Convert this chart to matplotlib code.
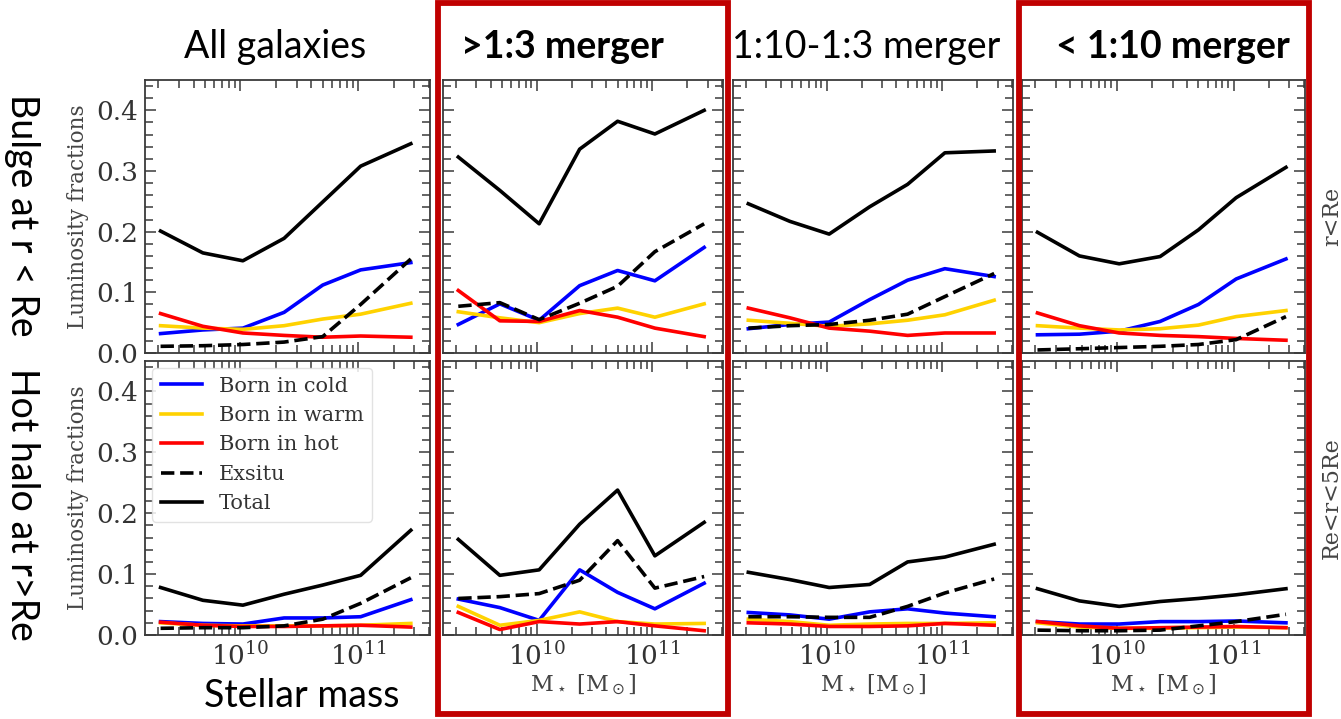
import numpy as np
import matplotlib
matplotlib.use("Agg")
import matplotlib.pyplot as plt
from matplotlib.patches import Rectangle
from matplotlib.ticker import MultipleLocator, LogLocator, NullFormatter

# Stellar mass bin centres [M_sun]
mass = [2.1e9, 4.8e9, 1.05e10, 2.35e10, 5.0e10, 1.05e11, 2.8e11]

columns = ["All galaxies", ">1:3 merger", "1:10-1:3 merger", "< 1:10 merger"]
column_bold = [False, True, False, True]
rows = ["r<Re", "Re<r<5Re"]
row_titles = ["Bulge at r < Re", "Hot halo at r>Re"]
series_labels = ["Born in cold", "Born in warm", "Born in hot", "Exsitu", "Total"]

# ---- Luminosity fractions inside Re ----
bulge_all_cold = [0.032, 0.038, 0.041, 0.067, 0.112, 0.137, 0.149]
bulge_all_warm = [0.045, 0.041, 0.039, 0.045, 0.056, 0.064, 0.082]
bulge_all_hot = [0.065, 0.044, 0.033, 0.029, 0.026, 0.028, 0.026]
bulge_all_exsitu = [0.011, 0.012, 0.014, 0.018, 0.027, 0.080, 0.155]
bulge_all_total = [0.201, 0.165, 0.152, 0.189, 0.249, 0.308, 0.345]

bulge_major_cold = [0.047, 0.081, 0.054, 0.111, 0.136, 0.119, 0.174]
bulge_major_warm = [0.068, 0.058, 0.050, 0.065, 0.074, 0.059, 0.081]
bulge_major_hot = [0.103, 0.053, 0.052, 0.070, 0.059, 0.041, 0.027]
bulge_major_exsitu = [0.077, 0.083, 0.055, 0.082, 0.110, 0.167, 0.213]
bulge_major_total = [0.323, 0.268, 0.213, 0.336, 0.382, 0.361, 0.400]

bulge_minor_cold = [0.040, 0.047, 0.051, 0.088, 0.120, 0.139, 0.126]
bulge_minor_warm = [0.054, 0.049, 0.044, 0.048, 0.054, 0.063, 0.087]
bulge_minor_hot = [0.074, 0.058, 0.041, 0.036, 0.029, 0.033, 0.033]
bulge_minor_exsitu = [0.041, 0.045, 0.047, 0.054, 0.064, 0.093, 0.131]
bulge_minor_total = [0.246, 0.217, 0.196, 0.241, 0.278, 0.330, 0.333]

bulge_mini_cold = [0.030, 0.031, 0.036, 0.052, 0.080, 0.122, 0.155]
bulge_mini_warm = [0.045, 0.041, 0.038, 0.040, 0.046, 0.060, 0.070]
bulge_mini_hot = [0.066, 0.045, 0.033, 0.029, 0.027, 0.024, 0.021]
bulge_mini_exsitu = [0.005, 0.007, 0.009, 0.011, 0.014, 0.022, 0.060]
bulge_mini_total = [0.199, 0.160, 0.147, 0.159, 0.203, 0.256, 0.306]

# ---- Luminosity fractions between Re and 5Re ----
halo_all_cold = [0.022, 0.019, 0.018, 0.028, 0.028, 0.030, 0.058]
halo_all_warm = [0.020, 0.016, 0.015, 0.015, 0.015, 0.016, 0.019]
halo_all_hot = [0.021, 0.016, 0.014, 0.014, 0.015, 0.016, 0.013]
halo_all_exsitu = [0.011, 0.012, 0.012, 0.015, 0.026, 0.052, 0.094]
halo_all_total = [0.078, 0.057, 0.049, 0.067, 0.082, 0.098, 0.172]

halo_major_cold = [0.059, 0.045, 0.024, 0.107, 0.070, 0.043, 0.085]
halo_major_warm = [0.047, 0.016, 0.024, 0.038, 0.022, 0.018, 0.019]
halo_major_hot = [0.037, 0.009, 0.022, 0.018, 0.022, 0.015, 0.007]
halo_major_exsitu = [0.060, 0.063, 0.068, 0.090, 0.155, 0.077, 0.096]
halo_major_total = [0.157, 0.098, 0.107, 0.182, 0.238, 0.130, 0.185]

halo_minor_cold = [0.037, 0.033, 0.026, 0.038, 0.043, 0.036, 0.030]
halo_minor_warm = [0.026, 0.022, 0.016, 0.018, 0.019, 0.019, 0.020]
halo_minor_hot = [0.020, 0.018, 0.014, 0.014, 0.015, 0.019, 0.016]
halo_minor_exsitu = [0.030, 0.030, 0.029, 0.029, 0.047, 0.069, 0.092]
halo_minor_total = [0.103, 0.091, 0.078, 0.083, 0.120, 0.128, 0.149]

halo_mini_cold = [0.022, 0.018, 0.018, 0.022, 0.022, 0.023, 0.020]
halo_mini_warm = [0.020, 0.013, 0.011, 0.011, 0.012, 0.013, 0.012]
halo_mini_hot = [0.022, 0.015, 0.011, 0.012, 0.013, 0.014, 0.012]
halo_mini_exsitu = [0.008, 0.007, 0.007, 0.008, 0.015, 0.022, 0.034]
halo_mini_total = [0.076, 0.056, 0.047, 0.055, 0.060, 0.066, 0.076]

panels = [
    [
        [bulge_all_cold, bulge_all_warm, bulge_all_hot, bulge_all_exsitu, bulge_all_total],
        [bulge_major_cold, bulge_major_warm, bulge_major_hot, bulge_major_exsitu, bulge_major_total],
        [bulge_minor_cold, bulge_minor_warm, bulge_minor_hot, bulge_minor_exsitu, bulge_minor_total],
        [bulge_mini_cold, bulge_mini_warm, bulge_mini_hot, bulge_mini_exsitu, bulge_mini_total],
    ],
    [
        [halo_all_cold, halo_all_warm, halo_all_hot, halo_all_exsitu, halo_all_total],
        [halo_major_cold, halo_major_warm, halo_major_hot, halo_major_exsitu, halo_major_total],
        [halo_minor_cold, halo_minor_warm, halo_minor_hot, halo_minor_exsitu, halo_minor_total],
        [halo_mini_cold, halo_mini_warm, halo_mini_hot, halo_mini_exsitu, halo_mini_total],
    ],
]

styles = [
    dict(color="#0000ff", ls="-"),
    dict(color="#ffd200", ls="-"),
    dict(color="#ff0000", ls="-"),
    dict(color="black", ls="--"),
    dict(color="black", ls="-"),
]

W, H = 1341, 719
fig = plt.figure(figsize=(W / 100, H / 100), dpi=100)
fig.patch.set_facecolor("white")

col_px = [(145, 430), (443, 723), (733, 1013), (1022, 1305)]
row_px = [(80, 353), (361, 635)]

SERIF = "DejaVu Serif"
SANS = ["Lato", "DejaVu Sans"]
spine_col = "#3a3a3a"
text_col = "#333333"

axes = {}
for r in range(2):
    for c in range(4):
        x0, x1 = col_px[c]
        y0, y1 = row_px[r]
        ax = fig.add_axes([x0 / W, 1 - y1 / H, (x1 - x0) / W, (y1 - y0) / H])
        axes[(r, c)] = ax
        for k, vals in enumerate(panels[r][c]):
            ax.plot(mass, vals, lw=2.6, label=series_labels[k], **styles[k])
        ax.set_xscale("log")
        ax.set_xlim(10 ** 9.19, 10 ** 11.61)
        ax.set_ylim(0, 0.45)
        ax.yaxis.set_major_locator(MultipleLocator(0.1))
        ax.yaxis.set_minor_locator(MultipleLocator(0.02))
        ax.xaxis.set_major_locator(LogLocator(base=10, numticks=10))
        ax.xaxis.set_minor_locator(LogLocator(base=10, subs=np.arange(2, 10), numticks=20))
        ax.xaxis.set_minor_formatter(NullFormatter())
        ax.tick_params(which="both", direction="in", top=True, right=True,
                       color=spine_col, width=1.1, labelcolor=text_col, pad=5)
        ax.tick_params(which="major", length=8)
        ax.tick_params(which="minor", length=5.5)
        for sp in ax.spines.values():
            sp.set_color(spine_col)
            sp.set_linewidth(1.3)
        for lab in ax.get_xticklabels() + ax.get_yticklabels():
            lab.set_fontfamily(SERIF)
            lab.set_fontsize(19)
        if c > 0:
            ax.set_yticklabels([])
        else:
            ax.set_ylabel("Luminosity fractions", family=SERIF, fontsize=15.5,
                          color="#444444", labelpad=5)
        if r == 0:
            ax.set_xticklabels([])
        elif c > 0:
            ax.set_xlabel(r"M$_\star$ [M$_\odot$]", family=SERIF, fontsize=16,
                          color="#444444", labelpad=2)
        if c == 3:
            ax.text(1.095, 0.5, rows[r], transform=ax.transAxes,
                    rotation=90, ha="center", va="center", family=SERIF,
                    fontsize=16, color="#444444")

leg = axes[(1, 0)].legend(loc="upper left", prop=dict(family=SERIF, size=15),
                          frameon=True, fancybox=True, framealpha=0.85,
                          edgecolor="#dddddd", handlelength=2.0,
                          borderaxespad=0.35, labelcolor=text_col)

# Column titles
title_x = [275, 562, 866, 1173]
for c in range(4):
    fig.text(title_x[c] / W, 1 - 47 / H, columns[c], ha="center", va="center",
             family=SANS, fontsize=27, fontweight="bold" if column_bold[c] else "normal")

# Row titles along the left edge
fig.text(22 / W, 1 - 215 / H, row_titles[0], rotation=270, ha="center", va="center",
         family=SANS, fontsize=27)
fig.text(22 / W, 1 - 504 / H, row_titles[1], rotation=270, ha="center", va="center",
         family=SANS, fontsize=27)
fig.text(302 / W, 1 - 696 / H, "Stellar mass", ha="center", va="center",
         family=SANS, fontsize=27)

# Highlight boxes around the merger columns
for (bx0, bx1) in [(438, 728), (1019, 1309)]:
    fig.patches.append(Rectangle((bx0 / W, 5 / H), (bx1 - bx0) / W, 711 / H,
                                 transform=fig.transFigure, fill=False,
                                 edgecolor="#c00000", linewidth=4.2, zorder=10))

fig.savefig("out.png", dpi=100, facecolor="white")
